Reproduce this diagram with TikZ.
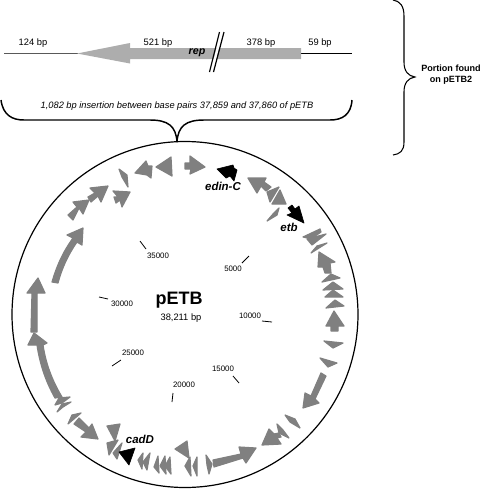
\documentclass[tikz,border=0pt]{standalone}
\usepackage{fontspec}
\setmainfont{Liberation Sans}
\tikzset{
  bplabel/.style={font=\fontsize{7}{8}\selectfont,inner sep=0pt},
  scalelabel/.style={font=\fontsize{5.9}{7}\selectfont,inner sep=0pt},
  genelabel/.style={font=\fontsize{8.6}{10}\selectfont\bfseries\itshape,inner sep=0pt},
  gene/.style={fill=black!50,draw=black!50,line width=0.9pt,line join=round},
  toxin/.style={fill=black,draw=black,line width=0.5pt,line join=round},
}
\begin{document}
\begin{tikzpicture}[x=0.75pt,y=-0.75pt]
\useasboundingbox (0,0) rectangle (480,490);
% insert map
\draw[black!65,line width=0.7pt] (4,53.5)--(78,53.5);
\draw[line width=0.6pt] (300,53.5)--(352,53.5);
\fill[black!32] (77,53.5)--(130,43)--(130,48)--(301,48)--(301,59)--(130,59)--(130,63.5)--cycle;
\fill[white] (210.5,72)--(220.5,32)--(223,32)--(213,72)--cycle;
\draw[line width=0.9pt] (209.5,72)--(219.5,32) (213.5,72)--(224,32);
\foreach \x/\lab/\nm in {33/124 bp/a,158/521 bp/b,261/378 bp/c,320/59 bp/d} {
  \node[bplabel] (len\nm) at (\x,43) {\lab};
}
\node[genelabel,font=\fontsize{8}{10}\selectfont\bfseries\itshape] (rep) at (197,53) {rep};
% braces
\draw[line width=1.1pt] (1,100) .. controls (3,115) and (12,120) .. (24,120) -- (150,120) .. controls (168,120) and (176,126) .. (177,142) .. controls (178,126) and (186,120) .. (204,120) -- (330,120) .. controls (342,120) and (351,115) .. (352,100);
\node[font=\fontsize{6.95}{8}\selectfont\itshape,inner sep=0pt] (insertion) at (177,106) {1,082 bp insertion between base pairs 37,859 and 37,860 of pETB};
\draw[line width=0.8pt] (393,0) .. controls (400,1) and (404,6) .. (404,16) -- (404,62) .. controls (404,71) and (408,76) .. (415,77) .. controls (408,78) and (404,83) .. (404,92) -- (404,142) .. controls (404,151) and (400,154) .. (393,155);
\node[font=\fontsize{6.8}{8.6}\selectfont\bfseries,align=center,inner sep=0pt] (portion) at (451,74.5) {Portion found\\on pETB2};
% plasmid
\draw[line width=0.9pt] (185,314.5) circle [radius=173];
\node[font=\fontsize{13.5}{15}\selectfont\bfseries,inner sep=0pt] (petb) at (179,300) {pETB};
\node[bplabel] (size) at (181,318) {38,211 bp};
% scale marks
\foreach \x/\y/\xa/\ya/\xb/\yb/\lab in {233/269/242/263/249/256/5000,250/316/262/321/272/322/10000,223/369/233/376/239/383/15000,184/385/172/402/173/393/20000,133/353/112/366/121/360/25000,122/304/99/297/108/299/30000,158/256/140/241/146/249/35000} {
  \node[scalelabel] (mark\lab) at (\x,\y) {\lab};
  \draw[line width=0.6pt] (\xa,\ya)--(\xb,\yb);
}
% three point genes
\foreach \xa/\ya/\xb/\yb/\xc/\yc in {156/167/171/157/172/176,267/192/279/187/270/202,280/190/286/204/272/204,322/282/331/274/340/278,323/290/333/282/343/289,325/297/333/290/343/297,326/308/335/300/344/306,324/341/343/343/333/348,320/358/337/363/328/367,175/449/187/441/189/458,185/466/190/457/191/476,193/466/197/457/197/476,154/467/158/456/159/473,160/466/165/456/166/474,165/466/170/457/171/474,138/460/143/453/142/469,143/462/150/453/147/470,107/443/118/440/109/455,113/453/122/443/117/459,107/426/120/424/115/441,68/424/72/415/81/413,307/239/326/234/312/245,311/253/327/243/317/246} {
  \filldraw[gene] (\xa,\ya)--(\xb,\yb)--(\xc,\yc)--cycle;
}
% slivers
\foreach \xa/\ya/\xb/\yb/\xc/\yc/\xd/\yd in {119/169/127/175/128/187/122/177,279/208/277/215/267/221/273/214,303/237/320/229/321/232/311/239,285/415/295/419/300/428/290/422,277/424/283/430/289/438/279/433,206/455/212/464/209/474/207/465,55/405/59/398/70/397/62/403,57/412/62/404/71/402/63/407} {
  \filldraw[gene] (\xa,\ya)--(\xb,\yb)--(\xc,\yc)--(\xd,\yd)--cycle;
}
% arrows
\filldraw[gene] (185,163)--(190,163)--(190,156)--(205,167)--(190,174)--(191,169)--(185,169)--cycle;
\filldraw[gene] (248,178)--(266,178)--(264,182)--(271,187)--(266,191)--(261,186)--(257,193)--cycle;
\filldraw[gene] (319,252)--(335,262)--(330,263)--(331,273)--(325,273)--(323,267)--(318,267)--cycle;
\filldraw[gene] (334,311)--(344,326)--(338,326)--(338,331)--(331,331)--(331,326)--(326,326)--cycle;
\filldraw[gene] (321,373)--(326,376)--(315,399)--(319,403)--(303,408)--(305,393)--(311,396)--cycle;
\filldraw[gene] (262,445)--(269,429)--(274,434)--(279,433)--(281,437)--(277,438)--(281,444)--cycle;
\filldraw[gene] (213,460)--(241,454)--(239,447)--(256,448)--(246,463)--(243,458)--(214,467)--cycle;
\filldraw[gene] (74,424)--(79,418)--(89,428)--(92,424)--(98,439)--(81,437)--(86,432)--cycle;
\filldraw[gene] (68,215)--(77,207)--(73,202)--(89,200)--(83,214)--(79,208)--(73,220)--cycle;
\filldraw[gene] (88,197)--(95,193)--(90,188)--(108,186)--(101,202)--(98,196)--(91,202)--cycle;
\filldraw[gene] (113,191)--(130,192)--(122,207)--(120,200)--(116,203)--(114,197)--(118,197)--cycle;
\filldraw[gene] (135,173)--(146,161)--(148,166)--(152,166)--(151,178)--(147,175)--cycle;
% long arrows
\filldraw[gene] (38,278)--(45,293)--(37,293)--(37,332)--(31,332)--(32,293)--(27,293)--cycle;
\filldraw[gene] (83,228)--(82,245)--(77,242) .. controls (68,255) and (62,268) .. (58,283)--(52,282) .. controls (57,265) and (63,252) .. (73,238)--(67,235)--cycle;
\filldraw[gene] (34,333)--(47,343)--(43,345) .. controls (46,365) and (53,382) .. (62,397)--(55,398) .. controls (46,382) and (40,365) .. (37,345)--(28,345)--cycle;
% black genes
\filldraw[toxin] (217,169)--(233,165)--(234,168)--(237,170)--(234,181)--(230,176)--(226,178)--cycle;
\filldraw[toxin] (288,208)--(292,205)--(295,209)--(299,206)--(304,223)--(287,215)--(292,213)--cycle;
\filldraw[toxin] (119,452)--(135,448)--(129,465)--cycle;
\node[genelabel] (edinC) at (223,186) {edin-C};
\node[genelabel] (etb) at (289,227) {etb};
\node[genelabel] (cadD) at (140,439) {cadD};
\end{tikzpicture}
\end{document}
